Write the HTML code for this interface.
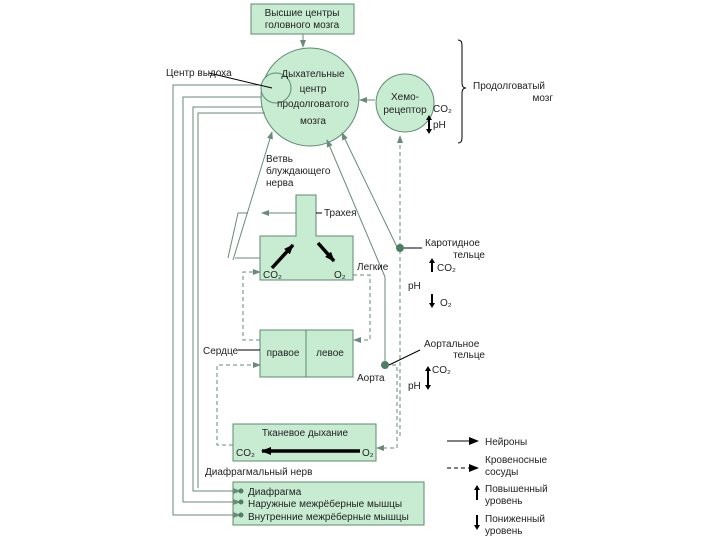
<!DOCTYPE html>
<html><head><meta charset="utf-8"><style>
body{margin:0;background:#fff}
svg{display:block;font-family:"Liberation Sans","DejaVu Sans",sans-serif}
text{font-size:10px;fill:#222}
</style></head><body>
<svg width="720" height="540" viewBox="0 0 720 540">
<defs>
<marker id="a" markerWidth="8" markerHeight="6" refX="7" refY="3" orient="auto" markerUnits="userSpaceOnUse"><path d="M0,0L8,3L0,6z" fill="#6a8a7a"/></marker>
<marker id="b" markerWidth="10" markerHeight="8" refX="9" refY="4" orient="auto" markerUnits="userSpaceOnUse"><path d="M0,0L10,4L0,8z" fill="#000"/></marker>
</defs>
<g fill="#c8ecd2" stroke="#5e8a6e" stroke-width="1">
<rect x="251" y="4" width="103" height="30"/>
<circle cx="310" cy="97" r="49"/>
<circle cx="276" cy="88" r="15"/>
<circle cx="405" cy="103" r="29"/>
<polygon points="260,236 296,236 296,195 316,195 316,236 353,236 353,280 260,280"/>
<rect x="260" y="330" width="93" height="47"/>
<line x1="306" y1="330" x2="306" y2="377"/>
<rect x="233" y="424" width="143" height="37"/>
<rect x="233" y="482" width="191" height="43"/>
</g>
<g stroke="#6a8a7a" fill="none" stroke-width="1">
<line x1="303" y1="34" x2="303" y2="47" marker-end="url(#a)"/>
<line x1="375" y1="100" x2="360" y2="100" marker-end="url(#a)"/>
<polyline points="262,85 173,85 173,515 240,515" marker-end="url(#a)"/>
<polyline points="262,97 183,97 183,502 240,502" marker-end="url(#a)"/>
<polyline points="262,107 193,107 193,491 240,491" marker-end="url(#a)"/>
<polyline points="265,113 198,113 198,488"/>
<line x1="233" y1="260" x2="272" y2="132" marker-end="url(#a)"/>
<line x1="260" y1="258" x2="235" y2="258"/>
<polyline points="248,213 238,213 228,258"/>
<line x1="296" y1="213" x2="262" y2="213" marker-end="url(#a)"/>
<polyline points="385,277 385,365"/>
<line x1="385" y1="277" x2="327" y2="140" marker-end="url(#a)"/>
<line x1="397" y1="247" x2="342" y2="133" marker-end="url(#a)"/>
</g>
<g stroke="#6a8a7a" fill="none" stroke-dasharray="4,3">
<line x1="400" y1="436" x2="400" y2="136" marker-end="url(#a)"/>
<polyline points="260,340 243,340 243,272 260,272" marker-end="url(#a)"/>
<polyline points="353,275 370,275 370,340 354,340" marker-end="url(#a)"/>
<polyline points="233,445 217,445 217,365 260,365" marker-end="url(#a)"/>
<polyline points="385,365 397,365 397,448 377,448" marker-end="url(#a)"/>
</g>
<g fill="#4e7e66"><circle cx="400" cy="248" r="4"/><circle cx="385" cy="365" r="4"/>
<circle cx="241" cy="491" r="2.5"/><circle cx="241" cy="502" r="2.5"/><circle cx="241" cy="515" r="2.5"/></g>
<g stroke="#000" stroke-width="1">
<line x1="209" y1="73" x2="272" y2="88"/>
<line x1="404" y1="248" x2="422" y2="248"/>
<line x1="389" y1="365" x2="420" y2="350"/>
<line x1="238" y1="350" x2="260" y2="350"/>
<line x1="316" y1="213" x2="322" y2="213"/>
<line x1="447" y1="441" x2="478" y2="441" marker-end="url(#b)"/>
<line x1="447" y1="468" x2="478" y2="468" stroke-dasharray="4,3" marker-end="url(#b)"/>
</g>
<g stroke="#000" stroke-width="3.5">
<line x1="272" y1="268" x2="293" y2="245" marker-end="url(#b)"/>
<line x1="318" y1="243" x2="334" y2="261" marker-end="url(#b)"/>
<line x1="360" y1="451" x2="262" y2="451" marker-end="url(#b)"/>
</g>
<g fill="#000" stroke="none">
<path d="M429,115l-3,5h2v7h2v-7h2z"/><path d="M429,134l-3,-5h2v-7h2v7h2z"/>
<path d="M432,258l-3,5h2v9h2v-9h2z"/><path d="M432,308l-3,-5h2v-9h2v9h2z"/>
<path d="M428,366l-3,5h2v7h2v-7h2z"/><path d="M428,390l-3,-5h2v-7h2v7h2z"/>
<path d="M477,485l-3,5h2v10h2v-10h2z"/><path d="M477,530l-3,-5h2v-10h2v10h2z"/>
</g>
<path d="M458,40q4,0 4,5v38q0,5 4,5q-4,0 -4,5v45q0,5 -4,5" stroke="#000" fill="none"/>
<text x="302" y="16" text-anchor="middle">Высшие центры</text>
<text x="302" y="28" text-anchor="middle">головного мозга</text>
<text x="166" y="76">Центр выдоха</text>
<text x="313" y="77" text-anchor="middle">Дыхательные</text>
<text x="313" y="92" text-anchor="middle">центр</text>
<text x="313" y="107" text-anchor="middle">продолговатого</text>
<text x="313" y="124" text-anchor="middle">мозга</text>
<text x="405" y="100" text-anchor="middle">Хемо-</text>
<text x="405" y="113" text-anchor="middle">рецептор</text>
<text x="433" y="112">CO₂</text><text x="433" y="128">pH</text>
<text x="473" y="89">Продолговатый</text><text x="553" y="101" text-anchor="end">мозг</text>
<text x="266" y="162">Ветвь</text><text x="266" y="174">блуждающего</text><text x="266" y="186">нерва</text>
<text x="324" y="216">Трахея</text>
<text x="425" y="246">Каротидное</text><text x="485" y="258" text-anchor="end">тельце</text>
<text x="437" y="271">CO₂</text><text x="408" y="289">pH</text><text x="440" y="306">O₂</text>
<text x="357" y="270">Легкие</text>
<text x="263" y="278">CO₂</text><text x="334" y="278">O₂</text>
<text x="203" y="354">Сердце</text>
<text x="283" y="356" text-anchor="middle">правое</text><text x="330" y="356" text-anchor="middle">левое</text>
<text x="424" y="347">Аортальное</text><text x="485" y="358" text-anchor="end">тельце</text>
<text x="357" y="381">Аорта</text>
<text x="432" y="373">CO₂</text><text x="408" y="389">pH</text>
<text x="305" y="436" text-anchor="middle">Тканевое дыхание</text>
<text x="236" y="456">CO₂</text><text x="362" y="456">O₂</text>
<text x="205" y="475">Диафрагмальный нерв</text>
<text x="248" y="495">Диафрагма</text>
<text x="248" y="507">Наружные межрёберные мышцы</text>
<text x="248" y="520">Внутренние межрёберные мышцы</text>
<text x="485" y="445">Нейроны</text>
<text x="485" y="463">Кровеносные</text><text x="485" y="475">сосуды</text>
<text x="485" y="492">Повышенный</text><text x="485" y="504">уровень</text>
<text x="485" y="522">Пониженный</text><text x="485" y="534">уровень</text>
</svg>
</body></html>
